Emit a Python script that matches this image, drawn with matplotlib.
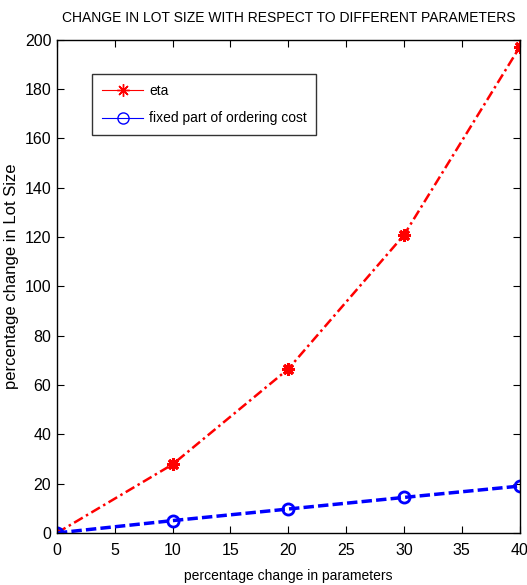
import matplotlib
matplotlib.use("Agg")
import matplotlib.pyplot as plt

x = [0, 10, 20, 30, 40]
eta = [0, 27.8, 66.5, 120.8, 197]
fixed_cost = [0, 5.0, 9.7, 14.4, 19]
xticks = [0, 5, 10, 15, 20, 25, 30, 35, 40]
yticks = [0, 20, 40, 60, 80, 100, 120, 140, 160, 180, 200]

plt.rcParams['font.family'] = ['Liberation Sans', 'DejaVu Sans']

fig = plt.figure(figsize=(5.27, 5.85), dpi=100)
ax = fig.add_axes([0.108, 0.089, 0.878, 0.843])

ax.plot(x, eta, color='red', linestyle=(0, (4, 1.5, 1, 1.5)), linewidth=1.8,
        marker=(8, 2, 0), markersize=9, markeredgewidth=2.2,
        markerfacecolor='red', markeredgecolor='red', label='eta')
ax.plot(x, fixed_cost, color='blue', linestyle=(0, (3, 1.2)), linewidth=2.5, marker='o',
        markersize=8, markerfacecolor='none', markeredgecolor='blue',
        markeredgewidth=2, label='fixed part of ordering cost')

ax.set_xlim(0, 40)
ax.set_ylim(0, 200)
ax.set_xticks(xticks)
ax.set_yticks(yticks)
ax.tick_params(direction='in', top=True, right=True, length=5, width=0.8,
               labelsize=11.5)
ax.tick_params(axis='x', pad=7)
ax.tick_params(axis='y', pad=4)
for s in ax.spines.values():
    s.set_linewidth(1.0)

ax.set_title('CHANGE IN LOT SIZE WITH RESPECT TO DIFFERENT PARAMETERS',
             fontsize=10, pad=13)
ax.set_xlabel('percentage change in parameters', fontsize=10, labelpad=8)
ax.set_ylabel('percentage change in Lot Size', fontsize=12, labelpad=8)
ax.yaxis.set_label_coords(-0.083, 0.52)

leg = ax.legend(loc='upper left', bbox_to_anchor=(0.076, 0.931), borderaxespad=0,
                fontsize=10, frameon=True, fancybox=False, edgecolor='black',
                handlelength=3, borderpad=0.7, labelspacing=1.0, handletextpad=0.4)
leg.get_frame().set_linewidth(1.0)
for h in leg.legend_handles:
    h.set_linewidth(0.8)
    h.set_linestyle('-')
    h.set_markeredgewidth(1)

fig.savefig('out.png', dpi=100)
